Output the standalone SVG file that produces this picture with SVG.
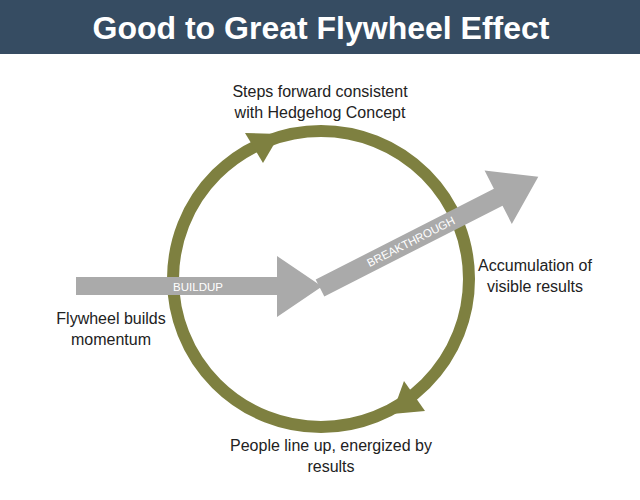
<svg xmlns="http://www.w3.org/2000/svg" width="640" height="500" viewBox="0 0 640 500">
<style>
.lbl{font-family:"Liberation Sans",Arial,sans-serif;font-size:16px;fill:#222222;text-anchor:middle}
.arr{fill:#aaaaaa}
.atx{font-family:"Liberation Sans",Arial,sans-serif;font-size:11.5px;fill:#ffffff;text-anchor:middle}
.olive{fill:#7e8040}
</style>
<rect width="640" height="500" fill="#ffffff"/>
<g id="title">
<rect x="0" y="0" width="640" height="54" fill="#364c62"/>
<text x="321" y="39" font-family="'Liberation Sans',Arial,sans-serif" font-size="32" font-weight="bold" fill="#ffffff" text-anchor="middle">Good to Great Flywheel Effect</text>
</g>
<g id="connectors">
<circle id="flywheel" cx="321" cy="279" r="148" fill="none" stroke="#7e8040" stroke-width="12"/>
<polygon class="olive" points="245,133 263,163 280,134"/>
<polygon class="olive" points="404,381 425,411 392,414"/>
</g>
<g id="buildup">
<polygon class="arr" points="76,277 277,277 277,256 322,286.5 277,317 277,295 76,295"/>
<text class="atx" x="198" y="291">BUILDUP</text>
</g>
<g id="breakthrough" transform="translate(320,288) rotate(-27)">
<polygon class="arr" points="0,-9.5 200,-9.5 200,-30 245,0 200,30 200,9.5 0,9.5"/>
<text class="atx" x="102" y="4">BREAKTHROUGH</text>
</g>
<g id="label-top">
<text class="lbl" x="320" y="97">Steps forward consistent</text>
<text class="lbl" x="320" y="118">with Hedgehog Concept</text>
</g>
<g id="label-right">
<text class="lbl" x="535" y="271">Accumulation of</text>
<text class="lbl" x="535" y="292">visible results</text>
</g>
<g id="label-bottom">
<text class="lbl" x="331" y="451">People line up, energized by</text>
<text class="lbl" x="331" y="472">results</text>
</g>
<g id="label-left">
<text class="lbl" x="111" y="324">Flywheel builds</text>
<text class="lbl" x="111" y="345">momentum</text>
</g>
</svg>
